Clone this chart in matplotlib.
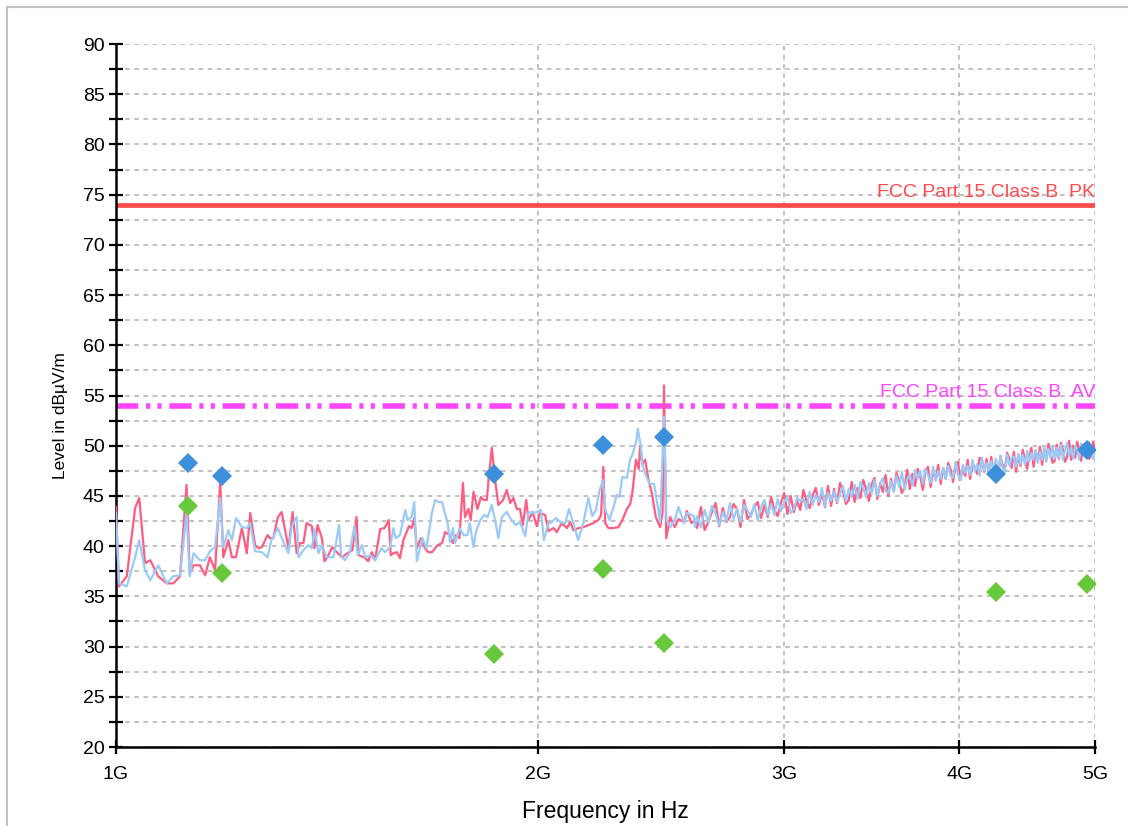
"""EMC radiated emission scan 1-5 GHz: peak / average traces, final measurement
points and the FCC Part 15 Class B limit lines."""

import numpy as np
import matplotlib

matplotlib.use("Agg")

import matplotlib.pyplot as plt
from matplotlib.patches import Rectangle
from matplotlib.ticker import MultipleLocator, NullLocator

plt.rcParams["font.family"] = ["Liberation Sans", "DejaVu Sans"]

# --- traces below 2.6 GHz, read point by point (MHz, dBuV/m) ---
red_lo_freq = [1000, 1005, 1018, 1032, 1039, 1049, 1058, 1072, 1087, 1099, 1111, 1123, 1129, 1136,
               1148, 1158, 1167, 1177, 1187, 1193, 1203, 1210, 1218, 1230, 1240, 1247, 1257,
               1264, 1271, 1283, 1288, 1295, 1305, 1313, 1328, 1337, 1346, 1353, 1361, 1368, 1380,
               1386, 1393, 1403, 1409, 1418, 1427, 1438, 1450, 1463, 1475, 1485, 1490, 1504, 1514,
               1523, 1531, 1544, 1555, 1566, 1571, 1578, 1587, 1595, 1604,
               1619, 1626, 1633, 1640, 1651, 1662, 1671, 1681, 1697, 1709, 1718, 1732, 1740, 1749,
               1759, 1769, 1775, 1785, 1792, 1800, 1812, 1822, 1830, 1840, 1845, 1855, 1865, 1875,
               1890, 1901, 1912, 1922, 1933, 1943, 1952, 1963, 1970, 1984, 1997, 2008, 2025,
               2036, 2053, 2064, 2081, 2099, 2110, 2121, 2139, 2157, 2174, 2192, 2210, 2220, 2228,
               2235, 2247, 2266, 2284, 2299, 2316, 2329, 2337, 2351, 2362, 2367, 2376, 2387, 2400,
               2413, 2429, 2446, 2456, 2462, 2471, 2487, 2506, 2521, 2545, 2556, 2576, 2591]
red_lo_level = [43.9, 36.0, 37.0, 43.8, 44.8, 38.3, 38.6, 37.0, 36.3, 36.3, 37.0, 46.1, 37.3, 38.1,
                38.1, 37.1, 38.9, 37.6, 46.4, 38.9, 40.6, 38.9, 38.9, 41.8, 39.3, 43.3, 40.1,
                39.8, 39.9, 41.1, 40.8, 40.8, 42.9, 43.4, 39.8, 43.4, 39.3, 40.3, 40.3, 42.3, 42.0,
                39.8, 42.1, 40.8, 38.5, 39.1, 39.9, 39.4, 38.9, 39.3, 39.6, 42.9, 39.1, 38.9, 38.5,
                39.4, 38.6, 41.7, 41.8, 42.6, 39.1, 39.3, 39.4, 38.8, 40.6,
                42.0, 41.8, 42.8, 39.8, 40.8, 39.8, 39.4, 39.4, 40.1, 40.3, 41.4, 41.1, 40.3, 41.1,
                40.8, 46.3, 42.9, 43.7, 42.6, 45.4, 43.7, 44.9, 44.6, 44.6, 46.6, 49.8, 46.6, 44.1,
                44.6, 45.6, 44.3, 44.8, 43.7, 43.7, 42.1, 44.6, 42.6, 43.4, 42.0, 43.3, 43.1,
                41.5, 41.8, 41.4, 42.3, 41.8, 42.4, 41.6, 41.8, 41.9, 42.1, 42.3, 42.6, 43.1, 47.9,
                42.3, 41.8, 41.8, 41.9, 42.6, 43.7, 44.2, 45.3, 48.6, 47.7, 49.9, 48.2, 48.6, 46.6,
                45.3, 42.9, 41.9, 43.3, 56.0, 40.8, 42.9, 41.9, 42.7, 42.4, 43.5, 42.3, 42.6]

blue_lo_freq = [1000, 1005, 1018, 1032, 1039, 1049, 1058, 1072, 1087, 1099, 1111, 1123, 1129, 1136,
                1148, 1158, 1167, 1177, 1187, 1193, 1203, 1210, 1218, 1230, 1240, 1247, 1257,
                1271, 1283, 1291, 1305, 1317, 1328, 1335, 1346, 1350, 1361, 1372, 1380, 1386, 1395,
                1403, 1414, 1430, 1443, 1448, 1457, 1469, 1480, 1488, 1498, 1507, 1520, 1531, 1547,
                1557, 1569, 1578, 1584, 1595, 1609,
                1615, 1626, 1633, 1640, 1655, 1666, 1681, 1690, 1699, 1709, 1725, 1732, 1740, 1746,
                1759, 1771, 1782, 1789, 1800, 1807, 1820, 1832, 1842, 1855, 1865, 1875, 1886, 1901,
                1912, 1929, 1943, 1960, 1970, 1984, 1997, 2011, 2021,
                2036, 2043, 2061, 2076, 2093, 2106, 2121, 2138, 2156, 2174, 2188, 2201, 2214, 2227,
                2235, 2251, 2266, 2278, 2288, 2299, 2317, 2328, 2337, 2352, 2358, 2370, 2376, 2387,
                2404, 2422, 2435, 2446, 2462, 2472, 2488, 2506, 2521, 2545, 2556, 2586, 2591]
blue_lo_level = [43.3, 36.3, 36.0, 38.9, 40.6, 37.6, 36.6, 38.1, 36.3, 37.0, 37.1, 43.3, 37.0, 39.3,
                 38.6, 38.6, 39.5, 39.9, 44.8, 39.9, 41.6, 40.6, 42.8, 41.9, 41.8, 42.3, 39.5,
                 39.4, 38.9, 40.6, 41.8, 40.4, 39.3, 42.0, 42.9, 38.9, 39.6, 40.1, 39.8, 41.7, 39.3,
                 40.1, 38.9, 38.9, 42.1, 39.1, 38.6, 39.4, 42.0, 39.1, 40.1, 38.9, 39.1, 38.6, 39.8,
                 39.4, 39.9, 41.8, 40.8, 41.1, 43.6,
                 42.6, 42.9, 44.4, 38.5, 40.8, 39.8, 43.3, 44.6, 44.4, 44.4, 42.3, 40.4, 41.8, 40.3,
                 41.8, 41.1, 41.1, 42.3, 39.9, 41.4, 42.6, 43.1, 42.9, 44.1, 42.6, 40.8, 42.9, 43.4,
                 42.8, 42.1, 42.4, 41.0, 43.4, 43.3, 43.4, 43.6, 40.6,
                 42.3, 42.3, 42.8, 42.4, 42.3, 43.7, 42.3, 40.6, 42.3, 44.8, 43.0, 43.6, 45.5, 46.6,
                 43.7, 42.6, 43.9, 45.1, 44.9, 46.9, 46.8, 48.6, 49.1, 50.4, 51.7, 49.9, 48.2, 47.2,
                 46.2, 46.2, 44.2, 42.4, 52.9, 42.6, 41.9, 42.6, 43.9, 42.3, 43.3, 43.0, 41.9]

# --- traces 2.6-5 GHz on the analyser's 16 MHz sweep grid ---
hi_freq = np.arange(2600, 5001, 16)
red_hi_level = [41.8, 43.9, 41.6, 42.4, 43.4, 44.3, 42.0, 43.8, 42.4, 42.9,
                44.2, 43.7, 41.9, 44.6, 42.7, 43.2, 43.9, 44.4, 42.8, 44.1,
                42.9, 44.9, 43.6, 43.0, 44.3, 45.3, 43.2, 45.0, 43.4, 44.5,
                43.6, 45.6, 44.5, 43.8, 45.1, 45.8, 44.1, 45.3, 43.9, 46.0,
                44.0, 45.7, 44.3, 46.3, 45.5, 44.2, 44.6, 46.4, 44.4, 45.8,
                44.8, 46.6, 45.7, 44.5, 46.2, 46.8, 44.7, 46.3, 45.4, 47.1,
                45.0, 46.7, 45.5, 47.3, 46.5, 45.3, 45.8, 47.6, 45.7, 47.2,
                46.0, 47.7, 46.9, 45.6, 47.4, 47.9, 45.9, 47.5, 46.6, 48.1,
                46.2, 47.8, 46.7, 48.3, 47.6, 46.4, 48.0, 48.4, 46.6, 47.7,
                47.0, 48.6, 46.7, 48.2, 47.8, 47.2, 48.8, 48.5, 47.4, 48.7,
                47.1, 48.9, 47.5, 48.5, 46.6, 49.0, 48.1, 47.7, 49.3, 48.7,
                47.8, 49.4, 47.4, 49.1, 48.0, 49.6, 48.6, 47.7, 48.9, 49.8,
                47.9, 49.5, 48.4, 49.9, 48.1, 49.7, 48.6, 50.2, 49.4, 48.3,
                48.5, 50.1, 48.7, 50.3, 49.6, 48.4, 48.9, 50.5, 48.6, 50.0,
                48.8, 50.4, 49.5, 48.5, 50.1, 49.1, 50.3, 48.7, 49.0, 50.4,
                49.6]
blue_hi_level = [43.0, 41.9, 43.6, 42.4, 44.0, 43.2, 42.1, 43.4, 42.5, 44.3,
                 42.7, 43.7, 42.4, 44.1, 43.6, 42.9, 44.2, 42.6, 43.9, 44.6,
                 43.1, 44.2, 43.1, 44.7, 43.5, 44.4, 45.0, 43.3, 43.7, 44.8,
                 44.5, 44.7, 43.7, 45.4, 44.1, 45.1, 44.4, 45.8, 44.0, 45.3,
                 44.5, 45.5, 44.4, 45.2, 46.0, 44.5, 45.7, 44.9, 46.1, 44.7,
                 46.4, 45.8, 44.9, 46.3, 45.2, 46.6, 45.0, 46.2, 46.8, 45.5,
                 45.3, 46.5, 45.4, 47.0, 45.9, 47.4, 45.6, 46.7, 47.1, 46.0,
                 47.6, 46.8, 47.5, 46.2, 47.7, 47.1, 46.3, 47.9, 46.5, 47.5,
                 46.7, 47.8, 46.7, 48.0, 47.0, 46.8, 48.4, 47.1, 46.6, 48.1,
                 47.3, 48.0, 47.1, 48.6, 47.4, 48.2, 47.0, 48.8, 47.5, 48.3,
                 47.3, 48.5, 47.6, 48.7, 47.2, 49.0, 47.8, 47.4, 49.1, 48.0,
                 48.8, 48.9, 47.9, 49.2, 48.2, 49.1, 48.1, 49.5, 48.4, 49.3,
                 48.6, 49.6, 48.3, 49.4, 48.6, 49.9, 48.4, 49.7, 48.8, 50.0,
                 48.7, 49.8, 48.8, 50.1, 48.6, 49.6, 50.3, 49.0, 49.8, 48.7,
                 50.0, 49.7, 48.6, 50.2, 49.1, 49.9, 48.9, 50.4, 49.2, 48.7,
                 49.2]

# --- final measurement points (GHz, dBuV/m) ---
final_freq = [1.125, 1.190, 1.863, 2.228, 2.463, 4.250, 4.933]
final_pk = [48.3, 47.0, 47.2, 50.1, 50.9, 47.2, 49.6]
final_av = [44.0, 37.3, 29.3, 37.7, 30.4, 35.4, 36.2]

limit_pk = 74.0
limit_av = 54.0

x_ticks = [1e9, 2e9, 3e9, 4e9, 5e9]
x_tick_labels = ["1G", "2G", "3G", "4G", "5G"]

RED = "#ff5c82"
LIGHT_BLUE = "#9ccaf7"

red_freq = np.concatenate([red_lo_freq, hi_freq]) * 1e6
red_level = np.concatenate([red_lo_level, red_hi_level])
blue_freq = np.concatenate([blue_lo_freq, hi_freq]) * 1e6
blue_level = np.concatenate([blue_lo_level, blue_hi_level])

fig = plt.figure(figsize=(11.28, 8.26), dpi=100)
ax = fig.add_axes([0.1028, 0.0956, 0.8679, 0.8511])

ax.set_xscale("log")
ax.set_xlim(1e9, 5e9)
ax.set_ylim(20, 90)

ax.plot(red_freq, red_level, color=RED, lw=1.6, zorder=3)
ax.plot(blue_freq, blue_level, color=LIGHT_BLUE, lw=1.6, zorder=3)

ax.axhline(limit_pk, color="#ff4b4b", lw=3.4, zorder=2)
ax.axhline(limit_av, color="#ff45ff", lw=4.0, zorder=2,
           linestyle=(0, (4.0, 1.4, 0.75, 1.3, 0.75, 1.4)))
ax.text(5e9, limit_pk + 0.4, "FCC Part 15 Class B  PK", color="#ff4b4b",
        fontsize=14, ha="right", va="bottom")
ax.text(5e9, limit_av + 0.5, "FCC Part 15 Class B  AV", color="#ff45ff",
        fontsize=14, ha="right", va="bottom")

ax.plot(np.array(final_freq) * 1e9, final_pk, "D", color="#3b8fdb", ms=9.7, mew=0, zorder=4)
ax.plot(np.array(final_freq) * 1e9, final_av, "D", color="#66c83a", ms=9.7, mew=0, zorder=4)

# axes, ticks and grid
ax.set_xticks(x_ticks, x_tick_labels)
ax.xaxis.set_minor_locator(NullLocator())
ax.yaxis.set_major_locator(MultipleLocator(5))
ax.yaxis.set_minor_locator(MultipleLocator(2.5))
ax.tick_params(axis="both", which="both", direction="inout", length=10, width=1.6,
               labelsize=14, colors="black")
ax.tick_params(axis="x", pad=9)
ax.tick_params(axis="y", pad=3)

ax.set_axisbelow(True)
ax.yaxis.grid(True, which="both", color="#b0b0b0", lw=1.1, linestyle=(0, (3, 3)))
ax.xaxis.grid(True, which="major", color="#b0b0b0", lw=1.1, linestyle=(0, (3, 3)))

for side in ("top", "right"):
    ax.spines[side].set_visible(False)
for side in ("left", "bottom"):
    ax.spines[side].set_linewidth(1.8)

ax.set_xlabel("Frequency in Hz", fontsize=16.5, labelpad=12)
ax.set_ylabel("Level in dBµV/m", fontsize=12.5)
ax.yaxis.set_label_coords(-0.049, 0.471)

# light frame around the whole picture
fig.patches.append(Rectangle((7 / 1128, -0.1), 1.2, 1.1 - 7 / 826, transform=fig.transFigure,
                             fill=False, edgecolor="#c4c4c4", lw=1.5))

fig.savefig("out.png", dpi=100)
